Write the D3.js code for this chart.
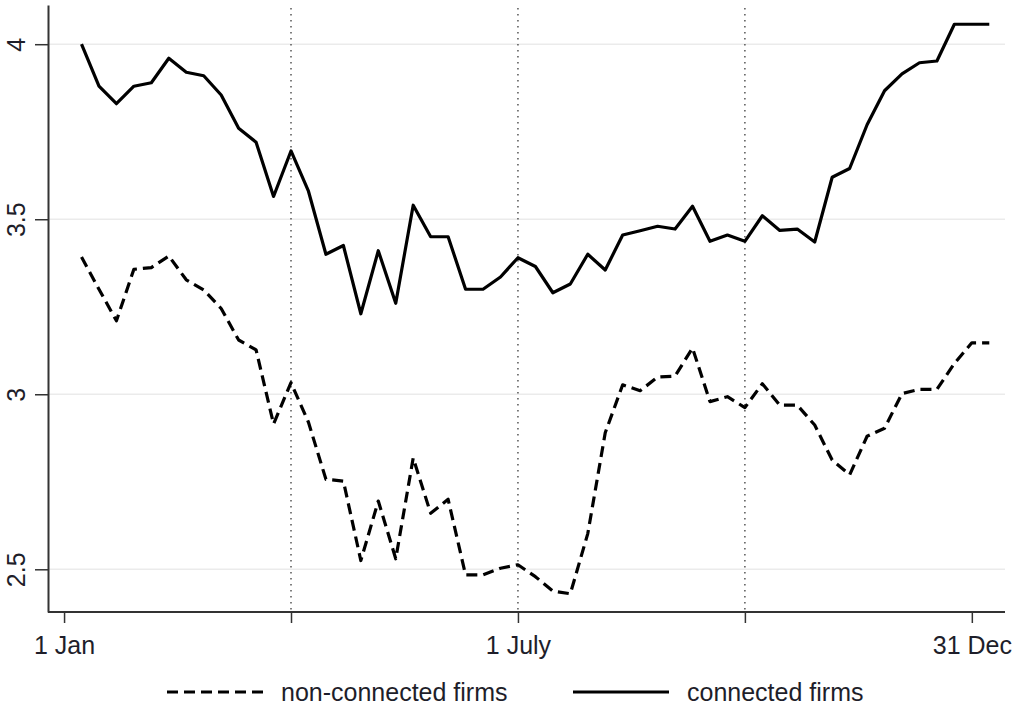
<!DOCTYPE html>
<html>
<head>
<meta charset="utf-8">
<script src="https://cdn.jsdelivr.net/npm/d3@7"></script>
<style>
  body { margin: 0; background: #fff; }
  text { font-family: "Liberation Sans", Arial, sans-serif; }
</style>
</head>
<body>
<div id="plot"></div>
<script>
// weekly index values, week 1 .. 53

const WEEKS = d3.range(1, 54);

const CONNECTED = [
  4.00, 3.88, 3.83, 3.88, 3.89, 3.96, 3.92, 3.91, 3.855, 3.76,
  3.72, 3.565, 3.695, 3.58, 3.40, 3.425, 3.23, 3.41, 3.26, 3.54,
  3.45, 3.45, 3.30, 3.30, 3.335, 3.39, 3.365, 3.29, 3.315, 3.40,
  3.355, 3.455, 3.467, 3.48, 3.472, 3.537, 3.437, 3.455, 3.437, 3.51,
  3.468, 3.472, 3.435, 3.62, 3.645, 3.77, 3.867, 3.915, 3.947, 3.952,
  4.057, 4.057, 4.057
];

const NON_CONNECTED = [
  3.392, 3.30, 3.21, 3.357, 3.362, 3.395, 3.327, 3.298, 3.245, 3.155,
  3.127, 2.915, 3.033, 2.92, 2.757, 2.752, 2.525, 2.695, 2.53, 2.818,
  2.66, 2.70, 2.484, 2.484, 2.503, 2.513, 2.479, 2.438, 2.43, 2.602,
  2.89, 3.027, 3.01, 3.049, 3.052, 3.132, 2.979, 2.993, 2.962, 3.03,
  2.969, 2.969, 2.912, 2.812, 2.77, 2.88, 2.903, 3.002, 3.014, 3.014,
  3.088, 3.147, 3.147
];

const X_TICKS = [0, 13, 26, 39, 52];
const X_TICK_LABELS = ["1 Jan", "", "1 July", "", "31 Dec"];
const Y_TICKS = [2.5, 3, 3.5, 4];
const Y_TICK_LABELS = ["2.5", "3", "3.5", "4"];
const MARKER_WEEKS = [13, 26, 39];

const LEGEND = [
  {label: "non-connected firms", dash: "11,6"},
  {label: "connected firms", dash: null}
];

const FRAME_WIDTH = 1014;
const FRAME_HEIGHT = 710;

const LEFT = 48, RIGHT = 1005, TOP = 5, BOTTOM = 612;

const FRAME = d3.select("#plot")
  .append("svg")
    .attr("width", FRAME_WIDTH)
    .attr("height", FRAME_HEIGHT);

const X = d3.scaleLinear().domain([-0.92, 53.9]).range([LEFT, RIGHT]);
const Y = d3.scaleLinear().domain([2.378, 4.112]).range([BOTTOM, TOP]);

// light horizontal grid
FRAME.selectAll(".grid")
  .data(Y_TICKS)
  .enter().append("line")
    .attr("x1", LEFT).attr("x2", RIGHT)
    .attr("y1", d => Y(d)).attr("y2", d => Y(d))
    .attr("stroke", "#ebebeb")
    .attr("stroke-width", 1.5);

// dotted quarter markers
FRAME.selectAll(".marker")
  .data(MARKER_WEEKS)
  .enter().append("line")
    .attr("x1", d => X(d)).attr("x2", d => X(d))
    .attr("y1", TOP + 3).attr("y2", BOTTOM)
    .attr("stroke", "#555")
    .attr("stroke-width", 1.5)
    .attr("stroke-dasharray", "1.5,4.5");

// x-axis
const X_AXIS = FRAME.append("g")
  .attr("transform", "translate(0," + BOTTOM + ")")
  .call(d3.axisBottom(X)
    .tickValues(X_TICKS)
    .tickFormat((d, i) => X_TICK_LABELS[i])
    .tickSize(11)
    .tickSizeOuter(0)
    .tickPadding(13));

// y-axis
const Y_AXIS = FRAME.append("g")
  .attr("transform", "translate(" + LEFT + ",0)")
  .call(d3.axisLeft(Y)
    .tickValues(Y_TICKS)
    .tickFormat((d, i) => Y_TICK_LABELS[i])
    .tickSize(13)
    .tickSizeOuter(0));

[X_AXIS, Y_AXIS].forEach(ax => {
  ax.select(".domain").attr("stroke", "#333").attr("stroke-width", 2);
  ax.selectAll(".tick line").attr("stroke", "#333").attr("stroke-width", 1.5);
  ax.selectAll("text")
    .attr("fill", "#1e1e2a")
    .style("font-size", "25px")
    .style("font-family", "'Liberation Sans', Arial, sans-serif");
});

// extend x domain line to the y-axis corner
X_AXIS.select(".domain").attr("d", "M" + LEFT + ",0H" + RIGHT);

// rotated y labels
Y_AXIS.selectAll(".tick text")
  .attr("x", 0).attr("dy", 0)
  .attr("text-anchor", "middle")
  .attr("transform", "translate(-23,0) rotate(-90)");

// series lines
const LINE = d3.line()
  .x((d, i) => X(WEEKS[i]))
  .y(d => Y(d));

FRAME.append("path")
  .datum(NON_CONNECTED)
  .attr("d", LINE)
  .attr("fill", "none")
  .attr("stroke", "#000")
  .attr("stroke-width", 3.2)
  .attr("stroke-linejoin", "round")
  .attr("stroke-dasharray", "11,6");

FRAME.append("path")
  .datum(CONNECTED)
  .attr("d", LINE)
  .attr("fill", "none")
  .attr("stroke", "#000")
  .attr("stroke-width", 3.2)
  .attr("stroke-linejoin", "round");

// legend
const LEG_X = [167, 573];
const LEG_Y = 692;

LEGEND.forEach((item, i) => {
  FRAME.append("line")
    .attr("x1", LEG_X[i]).attr("x2", LEG_X[i] + 96)
    .attr("y1", LEG_Y).attr("y2", LEG_Y)
    .attr("stroke", "#000")
    .attr("stroke-width", 3.2)
    .attr("stroke-dasharray", item.dash);

  FRAME.append("text")
    .attr("x", LEG_X[i] + 114)
    .attr("y", LEG_Y + 9)
    .attr("fill", "#1e1e2a")
    .style("font-size", "25px")
    .text(item.label);
});
</script>
</body>
</html>
